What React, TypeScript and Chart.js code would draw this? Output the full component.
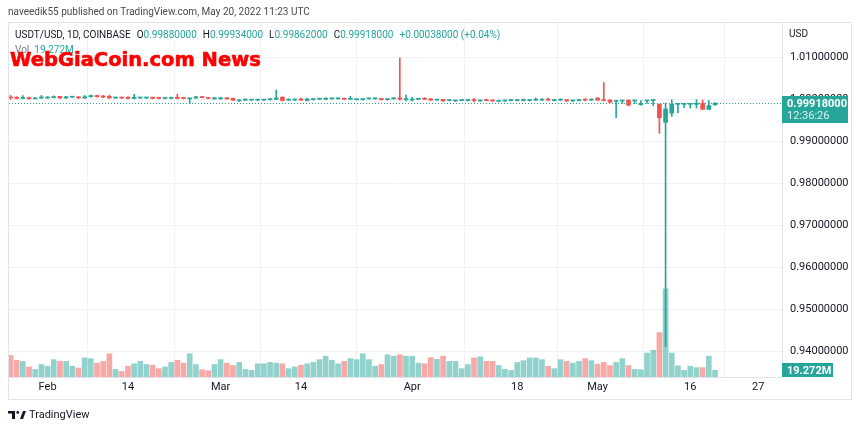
import React, { useEffect, useRef } from 'react';
import { Chart, registerables } from 'chart.js';

Chart.register(...registerables);

// Daily candles, USDT/USD Coinbase, index 0 = 2022-01-26 ... index 114 = 2022-05-20
const open = [
  1.0006, 1.0006, 1.0003, 1.0005, 1.0002, 1.0004, 1.0004, 1.0005, 1.0008, 1.0004,
  1.0006, 1.0007, 1.0004, 1.0007, 1.0010, 1.0009, 1.0008, 1.0004, 1.0006, 1.0006,
  1.0003, 1.0004, 1.0004, 1.0006, 1.0005, 1.0003, 1.0003, 1.0006, 1.0005, 1.0002,
  1.0004, 1.0007, 1.0004, 1.0002, 1.0002, 1.0004, 1.0003, 0.9997, 0.9999, 0.9999,
  0.9999, 0.9999, 1.0000, 1.0001, 1.0006, 0.9999, 0.9999, 1.0002, 0.9998, 1.0000,
  1.0001, 1.0001, 1.0002, 1.0002, 1.0003, 1.0001, 1.0000, 1.0000, 1.0002, 1.0002,
  1.0003, 1.0000, 1.0002, 1.0004, 1.0000, 0.9999, 1.0001, 1.0003, 1.0002, 0.9999,
  1.0001, 0.9998, 0.9997, 0.9998, 0.9998, 0.9999, 0.9997, 0.9999, 0.9999, 0.9996,
  0.9997, 0.9998, 0.9998, 0.9998, 0.9998, 0.9999, 0.9999, 1.0001, 0.9998, 0.9999,
  1.0000, 0.9997, 0.9998, 1.0001, 0.9999, 1.0004, 1.0000, 0.9999, 0.9996, 0.9997,
  0.9999, 0.9997, 0.9988, 0.9997, 0.9998, 0.9989, 0.9946, 0.9968, 0.9989, 0.9989,
  0.9989, 0.9989, 0.9991, 0.9977, 0.9988,
];
const high = [
  1.0010, 1.0007, 1.0010, 1.0006, 1.0005, 1.0010, 1.0007, 1.0009, 1.0008, 1.0008,
  1.0008, 1.0007, 1.0010, 1.0011, 1.0011, 1.0010, 1.0011, 1.0006, 1.0006, 1.0007,
  1.0013, 1.0006, 1.0006, 1.0006, 1.0006, 1.0005, 1.0006, 1.0013, 1.0006, 1.0004,
  1.0008, 1.0008, 1.0005, 1.0005, 1.0006, 1.0005, 1.0004, 1.0000, 1.0002, 1.0001,
  1.0001, 1.0001, 1.0003, 1.0023, 1.0007, 1.0002, 1.0002, 1.0003, 1.0003, 1.0003,
  1.0004, 1.0005, 1.0004, 1.0004, 1.0004, 1.0008, 1.0002, 1.0003, 1.0004, 1.0004,
  1.0003, 1.0003, 1.0005, 1.0099, 1.0011, 1.0006, 1.0003, 1.0005, 1.0003, 1.0001,
  1.0001, 1.0000, 0.9999, 1.0000, 1.0000, 1.0003, 0.9999, 1.0000, 1.0000, 0.9999,
  0.9999, 1.0000, 1.0001, 1.0002, 1.0001, 1.0004, 1.0002, 1.0004, 1.0001, 1.0002,
  1.0001, 0.9999, 1.0000, 1.0002, 1.0002, 1.0005, 1.0041, 1.0000, 0.9998, 0.9998,
  1.0000, 0.9999, 0.9998, 0.9998, 0.9999, 0.9990, 0.9992, 1.0000, 0.9991, 0.9991,
  0.9990, 1.0000, 0.9999, 0.9998, 0.99934,
];
const low = [
  1.0001, 1.0002, 1.0002, 1.0001, 1.0002, 1.0003, 1.0003, 1.0004, 1.0003, 1.0003,
  1.0005, 1.0003, 1.0003, 1.0006, 1.0006, 1.0005, 1.0003, 1.0003, 1.0003, 1.0002,
  1.0002, 1.0003, 1.0003, 1.0002, 1.0002, 1.0002, 1.0002, 1.0002, 1.0002, 0.9991,
  1.0003, 1.0004, 1.0002, 1.0001, 1.0001, 1.0001, 0.9998, 0.9996, 0.9998, 0.9998,
  0.9998, 0.9998, 0.9999, 1.0000, 0.9997, 0.9998, 0.9998, 0.9998, 0.9997, 0.9999,
  1.0000, 1.0000, 1.0001, 1.0001, 1.0000, 1.0000, 0.9999, 0.9999, 1.0001, 1.0001,
  0.9999, 0.9999, 1.0001, 0.9999, 0.9997, 0.9997, 1.0000, 1.0000, 0.9998, 0.9998,
  0.9996, 0.9997, 0.9996, 0.9997, 0.9997, 0.9995, 0.9996, 0.9997, 0.9996, 0.9995,
  0.9996, 0.9997, 0.9997, 0.9997, 0.9997, 0.9998, 0.9998, 0.9998, 0.9997, 0.9998,
  0.9996, 0.9996, 0.9997, 0.9997, 0.9998, 0.9998, 0.9997, 0.9993, 0.9957, 0.9991,
  0.9986, 0.9991, 0.9987, 0.9991, 0.9986, 0.9920, 0.9412, 0.9960, 0.9969, 0.9981,
  0.9980, 0.9980, 0.9977, 0.9976, 0.99862,
];
const close = [
  1.0004, 1.0003, 1.0005, 1.0002, 1.0004, 1.0006, 1.0006, 1.0007, 1.0004, 1.0007,
  1.0007, 1.0004, 1.0007, 1.0010, 1.0007, 1.0006, 1.0004, 1.0005, 1.0004, 1.0003,
  1.0006, 1.0005, 1.0005, 1.0003, 1.0003, 1.0004, 1.0005, 1.0003, 1.0003, 1.0004,
  1.0007, 1.0005, 1.0003, 1.0004, 1.0004, 1.0002, 0.9999, 0.9999, 1.0000, 1.0000,
  1.0000, 1.0000, 1.0002, 1.0004, 0.9998, 1.0001, 1.0001, 0.9999, 1.0002, 1.0001,
  1.0003, 1.0003, 1.0003, 1.0003, 1.0001, 1.0003, 1.0001, 1.0002, 1.0003, 1.0003,
  1.0000, 1.0002, 1.0004, 1.0001, 1.0002, 1.0001, 1.0002, 1.0001, 0.9999, 1.0000,
  0.9997, 0.9999, 0.9998, 0.9999, 0.9999, 0.9998, 0.9998, 0.9998, 0.9997, 0.9998,
  0.9998, 0.9999, 0.9999, 1.0000, 0.9999, 1.0001, 1.0000, 0.9999, 1.0000, 1.0000,
  0.9997, 0.9998, 0.9999, 0.9999, 1.0001, 0.9999, 0.9998, 0.9994, 0.9997, 0.9998,
  0.9987, 0.9998, 0.9991, 0.9998, 0.9999, 0.9957, 0.9978, 0.9989, 0.9990, 0.9990,
  0.9990, 0.9990, 0.9977, 0.9986, 0.99918,
];
// volume in millions
const volume = [
  62, 48, 45, 29, 22, 36, 31, 50, 45, 45,
  31, 26, 55, 53, 40, 45, 67, 22, 16, 31,
  38, 45, 36, 34, 24, 29, 42, 48, 40, 67,
  36, 21, 18, 36, 50, 40, 33, 42, 22, 19,
  38, 38, 42, 40, 38, 24, 29, 34, 38, 42,
  50, 60, 48, 38, 45, 53, 50, 67, 50, 31,
  36, 64, 60, 64, 60, 60, 40, 38, 56, 51,
  60, 45, 45, 24, 36, 55, 58, 45, 45, 33,
  22, 19, 42, 47, 55, 55, 50, 31, 24, 50,
  45, 40, 45, 53, 47, 37, 42, 33, 42, 53,
  33, 22, 21, 69, 77, 128, 254, 69, 32, 19,
  31, 27, 27, 60, 19.272,
];

const xTickDays = [6, 19, 34, 47, 65, 82, 95, 110, 121];
const xTickLabels = ['Feb', '14', 'Mar', '14', 'Apr', '18', 'May', '16', '27'];
const priceTicks = [0.94, 0.95, 0.96, 0.97, 0.98, 0.99, 1.0, 1.01];
const lastPrice = 0.99918;
const lastVolume = 19.272;
const lastPriceLabel = '0.99918000';
const countdownLabel = '12:36:26';
const lastVolumeLabel = '19.272M';

const UP = '#26a69a';
const DOWN = '#ef5350';
const UP_VOL = 'rgba(38,166,154,0.5)';
const DOWN_VOL = 'rgba(239,83,80,0.5)';
const GRID = '#f0f2f6';
const BORDER = '#e0e3eb';
const FONT = 'Roboto, sans-serif';

const overlayPlugin = {
  id: 'tvOverlay',
  beforeDatasetsDraw(chart: any) {
    const { ctx, chartArea, scales } = chart;
    const y = Math.round(scales.y.getPixelForValue(lastPrice)) + 0.5;
    ctx.save();
    ctx.strokeStyle = UP;
    ctx.lineWidth = 1;
    ctx.setLineDash([1, 2]);
    ctx.beginPath();
    ctx.moveTo(chartArea.left, y);
    ctx.lineTo(chartArea.right, y);
    ctx.stroke();
    ctx.restore();
  },
  afterDraw(chart: any) {
    const { ctx, chartArea, scales } = chart;
    const x0 = chartArea.right;
    ctx.save();
    // last price box
    const py = scales.y.getPixelForValue(lastPrice);
    ctx.fillStyle = UP;
    ctx.fillRect(x0, Math.round(py - 7), 66, 27);
    ctx.fillStyle = '#ffffff';
    ctx.textBaseline = 'middle';
    ctx.textAlign = 'left';
    ctx.font = `bold 11px ${FONT}`;
    ctx.fillText(lastPriceLabel, x0 + 5, py + 1);
    ctx.font = `11px ${FONT}`;
    ctx.fillStyle = 'rgba(255,255,255,0.85)';
    ctx.fillText(countdownLabel, x0 + 5, py + 13);
    // last volume box
    const vy = scales.yv.getPixelForValue(lastVolume);
    ctx.fillStyle = UP;
    ctx.fillRect(x0, Math.round(vy - 7), 51, 14);
    ctx.fillStyle = '#ffffff';
    ctx.font = `bold 11px ${FONT}`;
    ctx.fillText(lastVolumeLabel, x0 + 5, vy + 0.5);
    ctx.restore();
  },
};

export default function App() {
  const canvasRef = useRef<HTMLCanvasElement | null>(null);

  useEffect(() => {
    const canvas = canvasRef.current;
    if (!canvas) return;
    const idx = open.map((_, i) => i);
    const up = idx.map((i) => close[i] >= open[i]);
    const chart = new Chart(canvas, {
      type: 'bar',
      data: {
        datasets: [
          {
            label: 'body',
            data: idx.map((i) => ({ x: i, y: [open[i], close[i]] })) as any,
            yAxisID: 'y',
            backgroundColor: up.map((u) => (u ? UP : DOWN)),
            barThickness: 4,
            minBarLength: 1,
            grouped: false,
            order: 1,
          } as any,
          {
            label: 'wick',
            data: idx.map((i) => ({ x: i, y: [low[i], high[i]] })) as any,
            yAxisID: 'y',
            backgroundColor: up.map((u) => (u ? UP : DOWN)),
            barThickness: 1,
            grouped: false,
            order: 2,
          } as any,
          {
            label: 'volume',
            data: idx.map((i) => ({ x: i, y: volume[i] })) as any,
            yAxisID: 'yv',
            backgroundColor: up.map((u) => (u ? UP_VOL : DOWN_VOL)),
            barThickness: 5,
            grouped: false,
            order: 3,
          } as any,
        ],
      },
      options: {
        animation: false,
        responsive: false,
        maintainAspectRatio: false,
        layout: { padding: { left: 9, top: 23, right: 8, bottom: 30 } },
        plugins: { legend: { display: false }, tooltip: { enabled: false } },
        scales: {
          x: {
            type: 'linear',
            min: -0.243,
            max: 124.84,
            offset: false,
            grid: { color: GRID, drawTicks: false },
            border: { display: true, color: BORDER },
            afterBuildTicks: (s: any) => {
              s.ticks = xTickDays.map((v) => ({ value: v }));
            },
            afterFit: (s: any) => {
              s.height = 23;
            },
            ticks: {
              autoSkip: false,
              maxRotation: 0,
              padding: 4,
              color: '#131722',
              font: { family: FONT, size: 11 },
              callback: (v: any) => {
                const k = xTickDays.indexOf(Number(v));
                return k >= 0 ? xTickLabels[k] : '';
              },
            },
          },
          y: {
            type: 'linear',
            position: 'right',
            min: 0.933976,
            max: 1.018262,
            grid: { color: GRID, drawTicks: false },
            border: { display: true, color: BORDER },
            afterBuildTicks: (s: any) => {
              s.ticks = priceTicks.map((v) => ({ value: v }));
            },
            afterFit: (s: any) => {
              s.width = 70;
            },
            ticks: {
              padding: 8,
              color: '#131722',
              font: { family: FONT, size: 11 },
              callback: (v: any) => Number(v).toFixed(8),
            },
          },
          yv: {
            type: 'linear',
            display: false,
            min: 0,
            max: 1020,
          },
        },
      } as any,
      plugins: [overlayPlugin],
    });
    return () => chart.destroy();
  }, []);

  const teal = { color: UP };
  return (
    <div
      style={{
        position: 'fixed',
        left: 0,
        top: 0,
        width: 860,
        height: 430,
        background: '#ffffff',
        overflow: 'hidden',
        fontFamily: FONT,
      }}
    >
      <canvas
        ref={canvasRef}
        width={860}
        height={430}
        style={{ position: 'absolute', left: 0, top: 0, width: 860, height: 430 }}
      />
      <div
        style={{
          position: 'absolute',
          left: 8,
          top: 22,
          width: 844,
          height: 378,
          border: `1px solid ${BORDER}`,
          boxSizing: 'border-box',
          pointerEvents: 'none',
        }}
      />
      <div style={{ position: 'absolute', left: 8, top: 6, fontSize: 10, color: '#4a4a4a', whiteSpace: 'nowrap' }}>
        naveedik55 published on TradingView.com, May 20, 2022 11:23 UTC
      </div>
      <div style={{ position: 'absolute', left: 15, top: 29, fontSize: 10, color: '#131722', whiteSpace: 'nowrap' }}>
        <span>USDT/USD, 1D, COINBASE</span>
        <span style={{ marginLeft: 6 }}>O</span>
        <span style={teal}>0.99880000</span>
        <span style={{ marginLeft: 6 }}>H</span>
        <span style={teal}>0.99934000</span>
        <span style={{ marginLeft: 6 }}>L</span>
        <span style={teal}>0.99862000</span>
        <span style={{ marginLeft: 6 }}>C</span>
        <span style={teal}>0.99918000</span>
        <span style={{ ...teal, marginLeft: 6 }}>+0.00038000 (+0.04%)</span>
      </div>
      <div style={{ position: 'absolute', left: 15, top: 44, fontSize: 10, color: '#787b86', whiteSpace: 'nowrap' }}>
        <span>Vol</span>
        <span style={{ ...teal, marginLeft: 5 }}>19.272M</span>
      </div>
      <div
        style={{
          position: 'absolute',
          left: 10,
          top: 47,
          fontSize: 19.5,
          fontWeight: 'bold',
          fontFamily: '"DejaVu Sans", sans-serif',
          color: '#ff0000',
          WebkitTextStroke: '0.6px #ff0000',
          whiteSpace: 'nowrap',
          lineHeight: '26px',
        }}
      >
        WebGiaCoin.com News
      </div>
      <div style={{ position: 'absolute', left: 789, top: 28, fontSize: 10, color: '#131722' }}>USD</div>
      <div style={{ position: 'absolute', left: 8, top: 408, display: 'flex', alignItems: 'center' }}>
        <svg width="18" height="8" viewBox="0 0 36 16" style={{ display: 'block' }}>
          <rect x="0" y="0" width="14" height="5" fill="#131722" />
          <rect x="8" y="0" width="6" height="16" fill="#131722" />
          <circle cx="19.5" cy="2.8" r="2.8" fill="#131722" />
          <polygon points="24,16 30,0 36,0 30,16" fill="#131722" />
        </svg>
        <span style={{ marginLeft: 3, fontSize: 11, color: '#131722' }}>TradingView</span>
      </div>
    </div>
  );
}
